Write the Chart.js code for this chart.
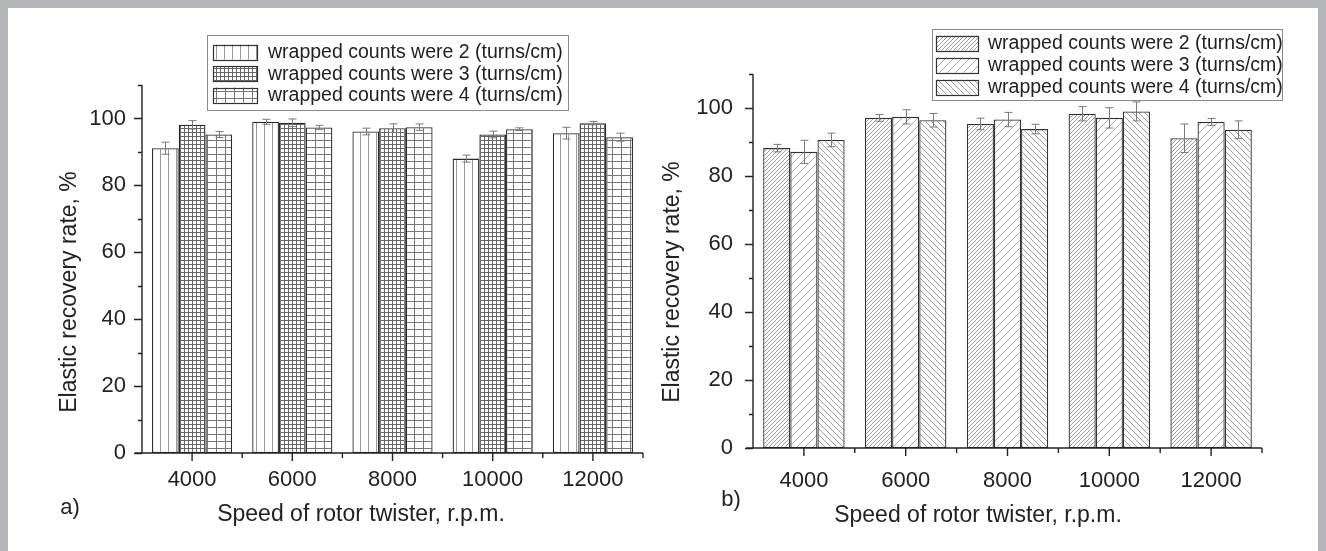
<!DOCTYPE html>
<html>
<head>
<meta charset="utf-8">
<script src="https://cdn.jsdelivr.net/npm/chart.js@4.4.1/dist/chart.umd.min.js"></script>
<style>
  html, body { margin: 0; padding: 0; background: #fff; }
  #wrap { position: relative; width: 1326px; height: 551px; overflow: hidden; background: #fff; }
  canvas { position: absolute; top: 0; }
  #cA { left: 0; }
  #cB { left: 660px; }
  .fr { position: absolute; background: #b2b4b8; z-index: 5; }
</style>
</head>
<body>
<div id="wrap">
  <canvas id="cA" width="660" height="551" style="width:660px;height:551px"></canvas>
  <canvas id="cB" width="666" height="551" style="width:666px;height:551px"></canvas>
  <div class="fr" style="left:0;top:0;width:1326px;height:8px"></div>
  <div class="fr" style="left:0;top:0;width:8px;height:551px"></div>
  <div class="fr" style="left:1318px;top:0;width:8px;height:551px"></div>
</div>
<script>
// ---------------- data ----------------
const categories = ['4000', '6000', '8000', '10000', '12000'];
const seriesLabels = ['wrapped counts were 2 (turns/cm)', 'wrapped counts were 3 (turns/cm)', 'wrapped counts were 4 (turns/cm)'];
const yTickLabels = [0, 20, 40, 60, 80, 100];

// panel a)
const a_wc2 = [91.1, 99.0, 96.1, 88.0, 95.6];
const a_wc3 = [98.1, 98.7, 97.1, 95.2, 98.6];
const a_wc4 = [95.2, 97.3, 97.4, 96.8, 94.4];
const a_err2 = [1.8, 0.75, 1.0, 1.05, 1.75];
const a_err3 = [1.25, 1.15, 1.3, 1.0, 0.5];
const a_err4 = [0.9, 0.65, 0.95, 0.4, 1.2];

// panel b)
const b_wc2 = [88.2, 97.1, 95.3, 98.3, 91.1];
const b_wc3 = [87.1, 97.4, 96.6, 97.1, 95.9];
const b_wc4 = [90.6, 96.4, 93.8, 99.0, 93.6];
const b_err2 = [1.1, 1.0, 1.7, 2.1, 4.2];
const b_err3 = [3.4, 2.1, 2.1, 3.0, 1.0];
const b_err4 = [2.0, 2.0, 1.4, 2.8, 2.6];

const FONT = "'Liberation Sans', Arial, Helvetica, sans-serif";
Chart.defaults.font.family = FONT;
Chart.defaults.color = '#222';

function txt(ctx, s, x, y, size, align, rot) {
  ctx.save();
  ctx.translate(x, y);
  if (rot) ctx.rotate(rot);
  ctx.font = size + 'px ' + FONT;
  ctx.fillStyle = '#222';
  ctx.textAlign = align || 'center';
  ctx.textBaseline = 'middle';
  ctx.fillText(s, 0, 0);
  ctx.restore();
}

// ---------------- patterns ----------------
function makePattern(w, h, draw) {
  const c = document.createElement('canvas');
  c.width = w; c.height = h;
  const g = c.getContext('2d');
  g.fillStyle = '#fff';
  g.fillRect(0, 0, w, h);
  draw(g, w, h);
  return g.createPattern(c, 'repeat');
}
const patVert = makePattern(8, 8, (g, w, h) => { g.fillStyle = '#9a9a9a'; g.fillRect(0, 0, 1, h); });
const patGridFine = makePattern(4, 4, (g, w, h) => { g.fillStyle = '#666'; g.fillRect(0, 0, 1, h); g.fillRect(0, 0, w, 1); });
const patGridCoarse = makePattern(9, 7, (g, w, h) => { g.fillStyle = '#777'; g.fillRect(0, 0, 1, h); g.fillRect(0, 0, w, 1); });
function diag(s, color, dir) {
  return makePattern(s, s, (g) => {
    g.strokeStyle = color; g.lineWidth = 1;
    g.beginPath();
    if (dir > 0) {
      g.moveTo(-1, s + 1); g.lineTo(s + 1, -1);
      g.moveTo(-1, 1); g.lineTo(1, -1);
      g.moveTo(s - 1, s + 1); g.lineTo(s + 1, s - 1);
    } else {
      g.moveTo(-1, -1); g.lineTo(s + 1, s + 1);
      g.moveTo(s - 1, -1); g.lineTo(s + 1, 1);
      g.moveTo(-1, s - 1); g.lineTo(1, s + 1);
    }
    g.stroke();
  });
}
const patDiagDense = diag(4, '#9c9c9c', 1);
const patDiagSparse = diag(8, '#a8a8a8', 1);
const patDiagBack = diag(6, '#9c9c9c', -1);

// ---------------- plugins ----------------
const axesPlugin = {
  id: 'axesDraw',
  afterDatasetsDraw(chart, args, o) {
    const ctx = chart.ctx, ca = chart.chartArea;
    const xs = chart.scales.x, ys = chart.scales.y;
    ctx.save();
    ctx.strokeStyle = '#222';
    ctx.lineWidth = 1.4;
    ctx.beginPath();
    const yTop = ys.getPixelForValue(ys.max);
    const y0 = ys.getPixelForValue(0);
    ctx.moveTo(ca.left, yTop); ctx.lineTo(ca.left, y0);
    ctx.moveTo(ca.left - 7, y0); ctx.lineTo(ca.right, y0);
    for (let v = 0; v <= ys.max + 0.001; v += 10) {
      const p = Math.round(ys.getPixelForValue(v)) + 0.5;
      const len = yTickLabels.includes(v) ? 8 : 4;
      ctx.moveTo(ca.left - len, p); ctx.lineTo(ca.left, p);
    }
    const n = categories.length;
    for (let i = 0; i < n; i++) {
      const c = xs.getPixelForValue(i);
      ctx.moveTo(c, y0); ctx.lineTo(c, y0 + 8);
      const next = i < n - 1 ? xs.getPixelForValue(i + 1) : c + (c - xs.getPixelForValue(i - 1));
      const b = (c + next) / 2;
      ctx.moveTo(b, y0); ctx.lineTo(b, y0 + 5);
    }
    ctx.stroke();
    ctx.restore();
    yTickLabels.forEach((v) => {
      txt(ctx, String(v), ca.left - o.yGap, ys.getPixelForValue(v), o.tickSize, 'right');
    });
    categories.forEach((c, i) => {
      txt(ctx, c, xs.getPixelForValue(i), y0 + o.xGap, o.tickSize, 'center');
    });
  }
};

const errorPlugin = {
  id: 'errBars',
  afterDatasetsDraw(chart, args, opts) {
    const ctx = chart.ctx, ys = chart.scales.y;
    ctx.save();
    ctx.strokeStyle = opts.color || '#777';
    ctx.lineWidth = 1;
    chart.data.datasets.forEach((ds, di) => {
      const meta = chart.getDatasetMeta(di);
      meta.data.forEach((bar, j) => {
        const v = ds.data[j], e = ds.errors[j];
        const x = Math.round(bar.x) + 0.5;
        const t = ys.getPixelForValue(v + e), b = ys.getPixelForValue(v - e);
        const cw = opts.cap || 4;
        ctx.beginPath();
        ctx.moveTo(x, t); ctx.lineTo(x, b);
        ctx.moveTo(x - cw, t); ctx.lineTo(x + cw, t);
        ctx.moveTo(x - cw, b); ctx.lineTo(x + cw, b);
        ctx.stroke();
      });
    });
    ctx.restore();
  }
};

const boxLegendPlugin = {
  id: 'boxLegend',
  afterDraw(chart, args, o) {
    const ctx = chart.ctx;
    ctx.save();
    ctx.fillStyle = '#fff';
    ctx.fillRect(o.x, o.y, o.w, o.h);
    ctx.strokeStyle = '#8a8a8a';
    ctx.lineWidth = 1;
    ctx.strokeRect(o.x + 0.5, o.y + 0.5, o.w, o.h);
    chart.data.datasets.forEach((ds, i) => {
      const cy = o.rows[i];
      ctx.fillStyle = ds.backgroundColor;
      ctx.fillRect(o.sx, cy - o.sh / 2, o.sw, o.sh);
      ctx.strokeStyle = '#333';
      ctx.lineWidth = 1.2;
      ctx.strokeRect(o.sx + 0.5, Math.round(cy - o.sh / 2) + 0.5, o.sw, o.sh);
      txt(ctx, ds.label, o.tx, cy + 1, o.font, 'left');
    });
    ctx.restore();
  }
};

const titlesPlugin = {
  id: 'titlesDraw',
  afterDraw(chart, args, o) {
    const ctx = chart.ctx;
    txt(ctx, o.xText, o.xx, o.xy, o.size, 'center');
    txt(ctx, o.panel, o.px, o.py, o.pSize, 'center');
    txt(ctx, o.yText, o.yx, o.yy, o.size, 'center', -Math.PI / 2);
  }
};

function buildChart(canvasId, sets, pats, cfg) {
  const datasets = sets.map((s, i) => ({
    label: seriesLabels[i],
    data: s.values,
    errors: s.errors,
    backgroundColor: pats[i],
    borderColor: cfg.border,
    borderWidth: 1.3,
    borderSkipped: false,
    categoryPercentage: 0.8,
    barPercentage: 1.0
  }));
  return new Chart(document.getElementById(canvasId), {
    type: 'bar',
    data: { labels: categories, datasets },
    plugins: [axesPlugin, errorPlugin, boxLegendPlugin, titlesPlugin],
    options: {
      responsive: false,
      animation: false,
      devicePixelRatio: 1,
      layout: { padding: { left: 0, right: cfg.padRight, top: cfg.padTop, bottom: 0 } },
      plugins: {
        legend: { display: false },
        tooltip: { enabled: false },
        errBars: { color: '#7a7a7a', cap: 4 },
        axesDraw: cfg.axes,
        boxLegend: cfg.legend,
        titlesDraw: cfg.titles
      },
      scales: {
        x: {
          type: 'category',
          grid: { display: false },
          border: { display: false },
          ticks: { display: false },
          afterFit: (s) => { s.height = cfg.xHeight; }
        },
        y: {
          min: 0, max: 110,
          grid: { display: false },
          border: { display: false },
          ticks: { display: false, stepSize: 10 },
          afterFit: (s) => { s.width = cfg.yWidth; }
        }
      }
    }
  });
}

buildChart('cA',
  [{ values: a_wc2, errors: a_err2 }, { values: a_wc3, errors: a_err3 }, { values: a_wc4, errors: a_err4 }],
  [patVert, patGridFine, patGridCoarse],
  {
    border: '#2a2a2a', padRight: 17, padTop: 85, xHeight: 98, yWidth: 142,
    axes: { yGap: 16, xGap: 27, tickSize: 22 },
    legend: { x: 207, y: 35, w: 361, h: 75, rows: [52, 73.5, 95], sx: 213, sw: 44, sh: 15, tx: 268, font: 19.5 },
    titles: { size: 23, pSize: 22, xText: 'Speed of rotor twister, r.p.m.', xx: 361, xy: 515,
              yText: 'Elastic recovery rate, %', yx: 70, yy: 292, panel: 'a)', px: 70, py: 508 }
  });

buildChart('cB',
  [{ values: b_wc2, errors: b_err2 }, { values: b_wc3, errors: b_err3 }, { values: b_wc4, errors: b_err4 }],
  [patDiagDense, patDiagSparse, patDiagBack],
  {
    border: '#333', padRight: 64, padTop: 74, xHeight: 103, yWidth: 93,
    axes: { yGap: 20, xGap: 33, tickSize: 22 },
    legend: { x: 272, y: 29, w: 350, h: 71, rows: [43, 65, 87], sx: 276, sw: 42, sh: 15, tx: 328, font: 19.5 },
    titles: { size: 23, pSize: 22, xText: 'Speed of rotor twister, r.p.m.', xx: 318, xy: 516,
              yText: 'Elastic recovery rate, %', yx: 13, yy: 282, panel: 'b)', px: 71, py: 500 }
  });
</script>
</body>
</html>
